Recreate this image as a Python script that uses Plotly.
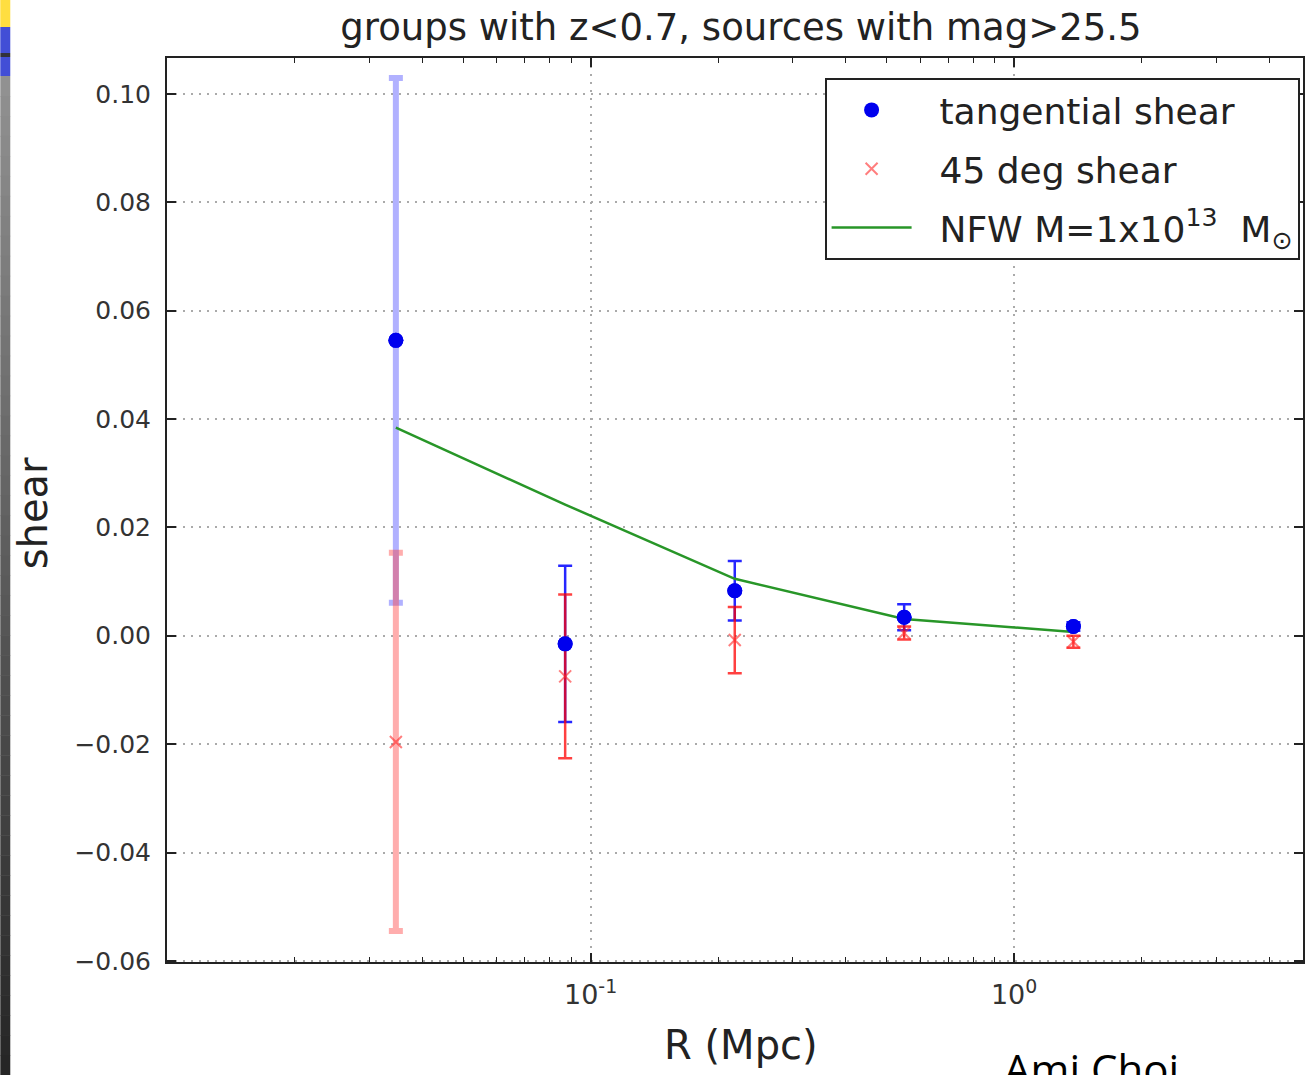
import plotly.graph_objects as go

# ---------------- data ----------------
R = [0.0347, 0.0871, 0.219, 0.550, 1.38]
tan_shear = [0.0545, -0.0015, 0.0083, 0.0034, 0.0017]
tan_err = [0.0484, 0.0144, 0.0055, 0.0024, 0.0008]
cross_shear = [-0.0196, -0.0075, -0.0008, 0.0005, -0.0011]
cross_err = [0.0349, 0.0151, 0.0061, 0.0012, 0.0011]
nfw_shear = [0.0384, 0.0242, 0.0105, 0.0031, 0.0007]

title_text = "groups with z<0.7, sources with mag>25.5"
x_tickvals = [0.1, 1.0]
x_ticktext = ["10<sup>-1</sup>", "10<sup>0</sup>"]
x_minor = [0.02, 0.03, 0.04, 0.05, 0.06, 0.07, 0.08, 0.09,
           0.2, 0.3, 0.4, 0.5, 0.6, 0.7, 0.8, 0.9, 2, 3, 4]
y_tickvals = [-0.06, -0.04, -0.02, 0.0, 0.02, 0.04, 0.06, 0.08, 0.10]

W, H = 1305, 1075
ML, MR, MT, MB = 167, 0, 58, 113
PW, PH = W - ML - MR, H - MT - MB

FONT = "DejaVu Sans"
BLUE = "#0000ee"
PAD = "\u00a0\u00a0"
fig = go.Figure()

# tangential shear error bars (first point faded)
fig.add_trace(go.Scatter(
    x=R[:1], y=tan_shear[:1], mode="markers",
    marker=dict(color=BLUE, size=15),
    error_y=dict(type="data", array=tan_err[:1], color="rgba(60,60,255,0.40)",
                 thickness=6, width=7),
    showlegend=False, hoverinfo="skip"))
fig.add_trace(go.Scatter(
    x=R[1:], y=tan_shear[1:], mode="markers", name=PAD + "tangential shear",
    marker=dict(color=BLUE, size=15),
    error_y=dict(type="data", array=tan_err[1:], color="rgba(0,0,255,0.85)",
                 thickness=2.5, width=7),
    legendrank=1, legendgroup="a"))

# 45 deg shear
fig.add_trace(go.Scatter(
    x=R[:1], y=cross_shear[:1], mode="markers",
    marker=dict(symbol="x-thin", color="rgba(255,40,40,0.6)", size=12,
                line=dict(width=2, color="rgba(255,40,40,0.6)")),
    error_y=dict(type="data", array=cross_err[:1], color="rgba(255,60,60,0.42)",
                 thickness=6, width=7),
    showlegend=False, hoverinfo="skip"))
fig.add_trace(go.Scatter(
    x=R[1:], y=cross_shear[1:], mode="markers", name=PAD + "45 deg shear",
    marker=dict(symbol="x-thin", color="rgba(255,40,40,0.6)", size=12,
                line=dict(width=2, color="rgba(255,40,40,0.6)")),
    error_y=dict(type="data", array=cross_err[1:], color="rgba(255,0,0,0.75)",
                 thickness=2.5, width=7),
    legendrank=2, legendgroup="b"))

# NFW model
fig.add_trace(go.Scatter(
    x=R, y=nfw_shear, mode="lines",
    name=PAD + "NFW M=1x10<sup>13</sup>  M<sub>⊙</sub>",
    line=dict(color="rgb(40,150,40)", width=2.5), legendrank=3, legendgroup="c"))

# blue markers on top
fig.add_trace(go.Scatter(
    x=R, y=tan_shear, mode="markers", marker=dict(color=BLUE, size=15),
    showlegend=False, hoverinfo="skip"))

# ---------------- slide decoration strip on the left ----------------
def px2paper_x(px):
    return (px - ML) / PW

def py2paper_y(py):
    return (H - MB - py) / PH

shapes = []
def strip(y0, y1, color):
    shapes.append(dict(type="rect", xref="paper", yref="paper",
                       x0=px2paper_x(0), x1=px2paper_x(10),
                       y0=py2paper_y(y1), y1=py2paper_y(y0),
                       fillcolor=color, line=dict(width=0), layer="above"))

strip(0, 27, "rgb(255,222,64)")
strip(27, 53, "rgb(66,78,214)")
strip(53, 57, "rgb(50,50,60)")
strip(57, 76, "rgb(66,78,214)")
N = 50
for i in range(N):
    y0 = 76 + i * (H - 76) / N
    y1 = 76 + (i + 1) * (H - 76) / N + 0.5
    g = int(145 - (145 - 38) * i / (N - 1))
    strip(y0, y1, f"rgb({g},{g},{g})")

annotations = [
    dict(text="R (Mpc)", xref="paper", yref="paper", x=px2paper_x(742),
         y=py2paper_y(1045), xanchor="center", yanchor="middle", showarrow=False,
         font=dict(family=FONT, size=40, color="#222")),
    dict(text="shear", xref="paper", yref="paper", x=px2paper_x(33),
         y=py2paper_y(513), xanchor="center", yanchor="middle", showarrow=False,
         textangle=-90, font=dict(family=FONT, size=40, color="#222")),
    dict(text="Ami Choi", xref="paper", yref="paper", x=px2paper_x(1003),
         y=py2paper_y(1038), xanchor="left", yanchor="top", showarrow=False,
         font=dict(family="Open Sans", size=42, color="#000")),
]

fig.update_layout(
    width=W, height=H,
    margin=dict(l=ML, r=MR, t=MT, b=MB),
    paper_bgcolor="white", plot_bgcolor="white",
    title=dict(text=title_text, x=px2paper_x(742), xref="paper", xanchor="center",
               y=1 - 27 / H, yref="container", yanchor="middle",
               font=dict(family=FONT, size=37, color="#222")),
    shapes=shapes, annotations=annotations,
    legend=dict(x=0.997, xanchor="right", y=1 - 20 / PH, yanchor="top",
                bordercolor="#222", borderwidth=2, bgcolor="white",
                font=dict(family=FONT, size=36, color="#222"),
                itemwidth=80, tracegroupgap=9, traceorder="grouped"),
    showlegend=True,
)

fig.update_xaxes(
    type="log", range=[-2, 0.682],
    tickvals=x_tickvals, ticktext=x_ticktext,
    ticks="inside", ticklen=9, tickwidth=1.5, tickcolor="#222",
    minor=dict(tickvals=x_minor, ticks="inside", ticklen=5, tickwidth=1.2,
               tickcolor="#222", showgrid=False),
    showline=True, linecolor="#222", linewidth=2, mirror="allticks",
    showgrid=True, gridcolor="#aaaaaa", gridwidth=1.5, griddash="2px,6px",
    tickfont=dict(family=FONT, size=27, color="#333"),
    ticklabelstandoff=8, zeroline=False,
)
fig.update_yaxes(
    range=[-0.0602, 0.1066],
    tickvals=y_tickvals, tickformat=".2f",
    ticks="inside", ticklen=9, tickwidth=1.5, tickcolor="#222",
    showline=True, linecolor="#222", linewidth=2, mirror="allticks",
    showgrid=True, gridcolor="#aaaaaa", gridwidth=1.5, griddash="2px,6px",
    tickfont=dict(family=FONT, size=25, color="#333"),
    ticklabelstandoff=9, zeroline=False,
)

fig.write_html("out.html", config={"displayModeBar": False},
               post_script="document.body.style.margin='0';document.body.style.overflow='hidden';")
